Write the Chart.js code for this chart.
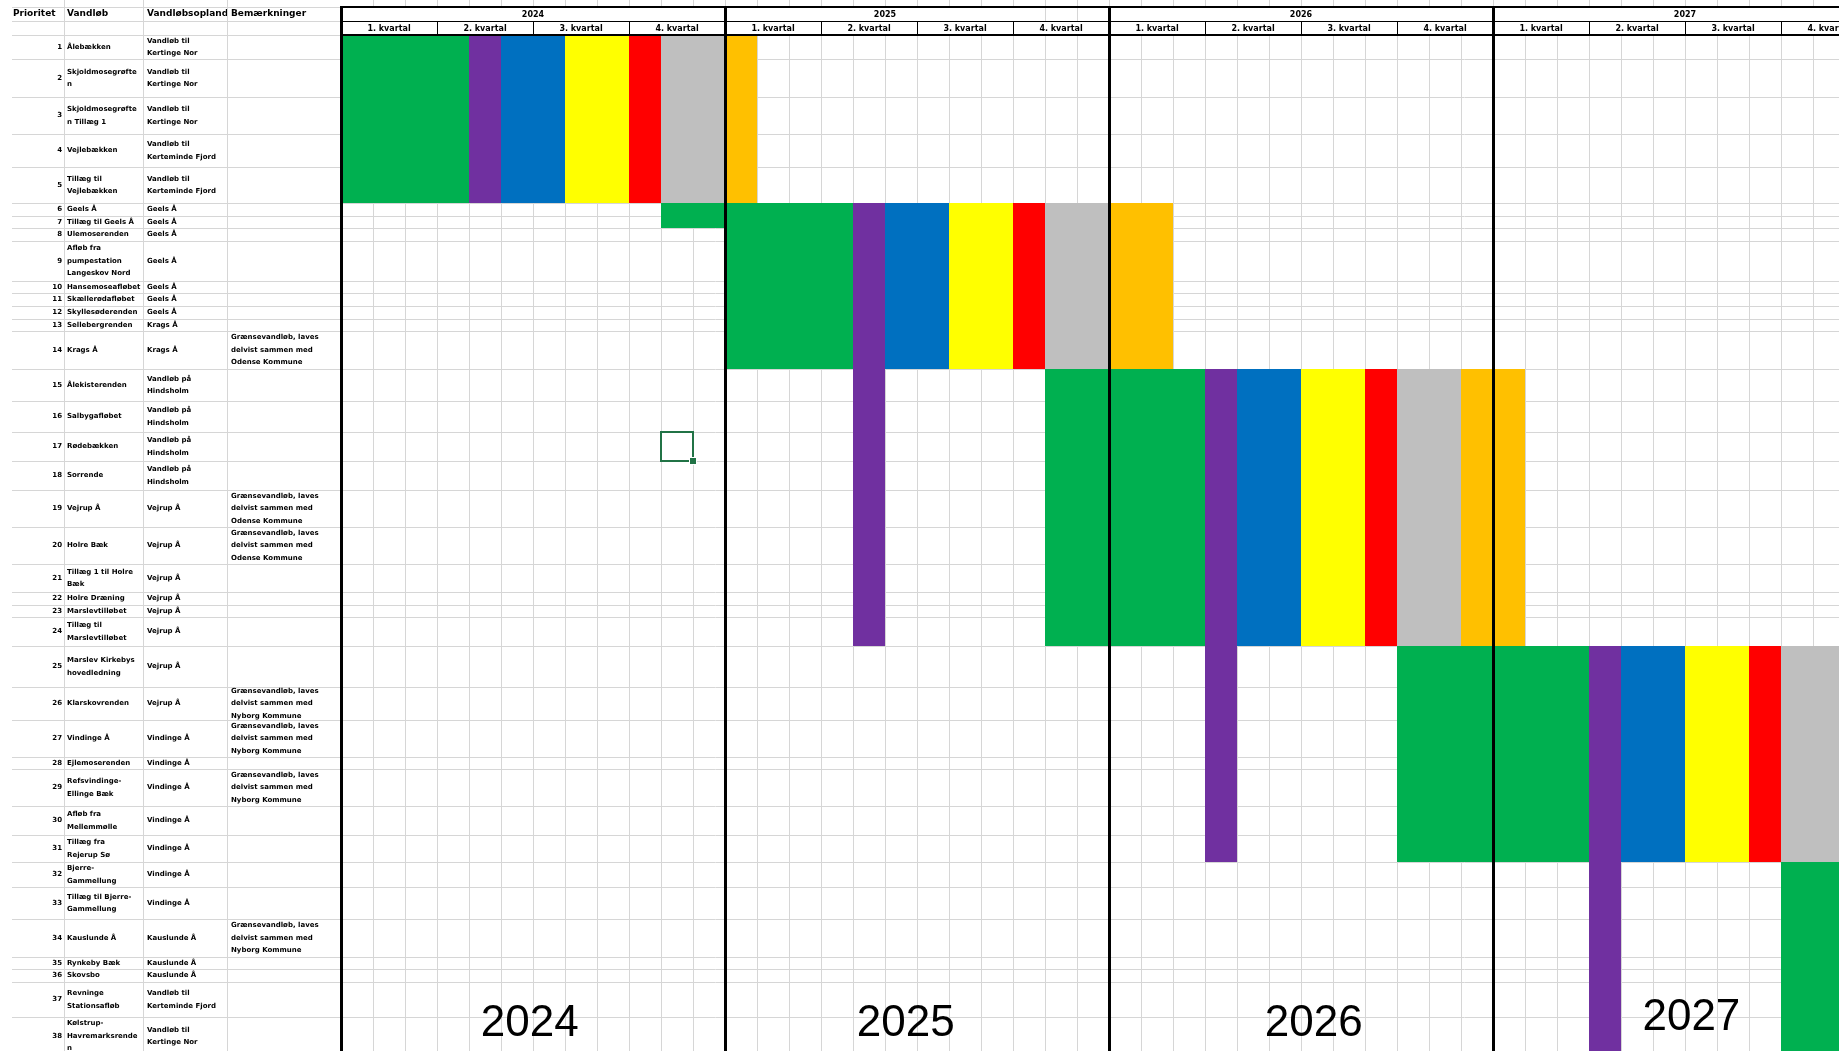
<!DOCTYPE html>
<html lang="da">
<head>
<meta charset="utf-8">
<title>Tidsplan vandløb 2024-2027</title>
<script src="https://cdn.jsdelivr.net/npm/chart.js@4.4.1/dist/chart.umd.min.js"></script>
<style>
    html, body { margin: 0; padding: 0; background: #fff; overflow: hidden; }
</style>
</head>
<body>
<canvas id="myChart" width="1839" height="1051"></canvas>
<script>
const years = ['2024', '2025', '2026', '2027'];
const quarters = ['1. kvartal', '2. kvartal', '3. kvartal', '4. kvartal'];
const headers = ['Prioritet', 'Vandløb', 'Vandløbsopland', 'Bemærkninger'];

const priority = [1, 2, 3, 4, 5, 6, 7, 8, 9, 10, 11, 12, 13, 14, 15, 16, 17, 18, 19,
    20, 21, 22, 23, 24, 25, 26, 27, 28, 29, 30, 31, 32, 33, 34, 35, 36, 37, 38];

const streams = [
    'Ålebækken', 'Skjoldmosegrøfte\nn', 'Skjoldmosegrøfte\nn Tillæg 1', 'Vejlebækken',
    'Tillæg til\nVejlebækken', 'Geels Å', 'Tillæg til Geels Å', 'Ulemoserenden',
    'Afløb fra\npumpestation\nLangeskov Nord', 'Hansemoseafløbet', 'Skællerødafløbet',
    'Skyllesøderenden', 'Sellebergrenden', 'Krags Å', 'Ålekisterenden', 'Salbygafløbet',
    'Rødebækken', 'Sorrende', 'Vejrup Å', 'Holre Bæk', 'Tillæg 1 til Holre\nBæk',
    'Holre Dræning', 'Marslevtilløbet', 'Tillæg til\nMarslevtilløbet',
    'Marslev Kirkebys\nhovedledning', 'Klarskovrenden', 'Vindinge Å', 'Ejlemoserenden',
    'Refsvindinge-\nEllinge Bæk', 'Afløb fra\nMellemmølle', 'Tillæg fra\nRejerup Sø',
    'Bjerre-\nGammellung', 'Tillæg til Bjerre-\nGammellung', 'Kauslunde Å', 'Rynkeby Bæk',
    'Skovsbo', 'Revninge\nStationsafløb', 'Kølstrup-\nHavremarksrende\nn'
];

const catchments = [
    'Vandløb til\nKertinge Nor', 'Vandløb til\nKertinge Nor', 'Vandløb til\nKertinge Nor',
    'Vandløb til\nKerteminde Fjord', 'Vandløb til\nKerteminde Fjord',
    'Geels Å', 'Geels Å', 'Geels Å', 'Geels Å', 'Geels Å', 'Geels Å', 'Geels Å',
    'Krags Å', 'Krags Å',
    'Vandløb på\nHindsholm', 'Vandløb på\nHindsholm', 'Vandløb på\nHindsholm', 'Vandløb på\nHindsholm',
    'Vejrup Å', 'Vejrup Å', 'Vejrup Å', 'Vejrup Å', 'Vejrup Å', 'Vejrup Å', 'Vejrup Å', 'Vejrup Å',
    'Vindinge Å', 'Vindinge Å', 'Vindinge Å', 'Vindinge Å', 'Vindinge Å', 'Vindinge Å', 'Vindinge Å',
    'Kauslunde Å', 'Kauslunde Å', 'Kauslunde Å',
    'Vandløb til\nKerteminde Fjord', 'Vandløb til\nKertinge Nor'
];

const odense = 'Grænsevandløb, laves\ndelvist sammen med\nOdense Kommune';
const nyborg = 'Grænsevandløb, laves\ndelvist sammen med\nNyborg Kommune';
const remarks = [
    '', '', '', '', '', '', '', '', '', '', '', '', '', odense,
    '', '', '', '', odense, odense, '', '', '', '', '', nyborg, nyborg, '', nyborg,
    '', '', '', '', nyborg, '', '', '', ''
];

// stages: first and last priority row covered
const stageFrom = [1, 6, 15, 25, 32];
const stageTo = [5, 14, 24, 31, 38];

// phases as [start, end] in months counted from January 2024
const phaseGreen = [[0, 4], [12, 16], [22, 27], [33, 39], [45, 48]];
const phasePurple = [[4, 5], [16, 17], [27, 28], [39, 40]];
const purpleTo = [5, 24, 31, 38]; // purple runs down over the next stage
const phaseBlue = [[5, 7], [17, 19], [28, 30], [40, 42]];
const phaseYellow = [[7, 9], [19, 21], [30, 32], [42, 44]];
const phaseRed = [[9, 10], [21, 22], [32, 33], [44, 45]];
const phaseGrey = [[10, 12], [22, 24], [33, 35], [45, 47]];
const phaseOrange = [[12, 13], [24, 26], [35, 37]];
// early start for priority 6-7
const earlyMonths = [10, 12];
const earlyRows = [6, 7];

// ---- layout (sheet sizes in px) ----
const colours = ['#00B050', '#7030A0', '#0070C0', '#FFFF00', '#FF0000', '#BFBFBF', '#FFC000'];
const rowHeights = [24, 38, 37, 33, 36, 13, 12, 13, 40, 12, 13, 13, 12, 38, 32, 31, 29, 29, 37,
    37, 28, 13, 12, 29, 41, 33, 37, 12, 37, 29, 27, 25, 32, 38, 12, 13, 35, 38];
const W = 1839, H = 1051;
const TABLE_W = 341, HEAD_H = 35, MONTH_W = 32;
const colLines = [64, 143, 227];
const colText = [62, 67, 147, 231];
const GRID = '#d6d6d6';
const bodyFont = 'bold 7px "DejaVu Sans"';
const headFont = 'bold 9px "DejaVu Sans"';
const yearHeadSpan = [[0, 12], [12, 22], [24, 36], [36, 48]];
const bigLabelShift = [-0.1, -0.35, 0.4, 0.2];
const bigLabelY = [1024, 1024, 1024, 1018];

const rowEdges = [0];
rowHeights.forEach(h => rowEdges.push(rowEdges[rowEdges.length - 1] + h));
const yMax = H - HEAD_H;
const xMax = (W - TABLE_W) / MONTH_W;

const datasets = [];
function addBlock(months, fromRow, toRow, colour) {
    const top = rowEdges[fromRow - 1];
    const bottom = rowEdges[toRow];
    datasets.push({
        data: [
            { x: months[0], y: top }, { x: months[1], y: top },
            { x: months[1], y: bottom }, { x: months[0], y: bottom }
        ],
        fill: 'shape',
        backgroundColor: colour,
        borderColor: 'rgba(0,0,0,0)',
        borderWidth: 0,
        pointRadius: 0,
        pointHoverRadius: 0,
        tension: 0
    });
}
phaseGreen.forEach((m, i) => addBlock(m, stageFrom[i], stageTo[i], colours[0]));
phasePurple.forEach((m, i) => addBlock(m, stageFrom[i], purpleTo[i], colours[1]));
[phaseBlue, phaseYellow, phaseRed, phaseGrey, phaseOrange].forEach((phase, k) => {
    phase.forEach((m, i) => addBlock(m, stageFrom[i], stageTo[i], colours[k + 2]));
});
addBlock(earlyMonths, earlyRows[0], earlyRows[1], colours[0]);

function cellText(ctx, text, x, yMid, clip0, clip1) {
    const lines = text.split('\n');
    const lh = 12.4;
    ctx.save();
    ctx.beginPath();
    ctx.rect(clip0, 0, clip1 - clip0, H);
    ctx.clip();
    lines.forEach((ln, i) => ctx.fillText(ln, x, yMid + (i - (lines.length - 1) / 2) * lh));
    ctx.restore();
}

const sheetPlugin = {
    id: 'sheet',
    beforeDraw(chart) {
        const c = chart.ctx;
        c.save();
        c.fillStyle = '#fff';
        c.fillRect(0, 0, W, H);
        c.restore();
    },
    afterDraw(chart) {
        const c = chart.ctx;
        const xs = chart.scales.x;
        const ys = chart.scales.y;
        const px = m => Math.round(xs.getPixelForValue(m));
        const py = v => Math.round(ys.getPixelForValue(v));
        c.save();

        // gridlines of the sheet outside the chart area
        c.fillStyle = GRID;
        colLines.forEach(x => c.fillRect(x, 0, 1, H));
        [7, 21].concat(rowEdges.map(v => py(v))).forEach(y => c.fillRect(12, y, TABLE_W - 12, 1));
        for (let m = 1; m < 47; m++) c.fillRect(px(m), 0, 1, 6);
        [22, 23].forEach(m => c.fillRect(px(m), 8, 1, 13));

        // left table
        c.fillStyle = '#000';
        c.textBaseline = 'middle';
        c.font = headFont;
        c.textAlign = 'left';
        cellText(c, headers[0], 13, 14, 12, 64);
        cellText(c, headers[1], colText[1], 14, 64, 143);
        cellText(c, headers[2], colText[2], 14, 143, 227);
        cellText(c, headers[3], colText[3], 14, 227, TABLE_W - 2);
        c.font = bodyFont;
        priority.forEach((p, i) => {
            const yMid = (py(rowEdges[i]) + py(rowEdges[i + 1])) / 2;
            c.textAlign = 'right';
            cellText(c, String(p), colText[0], yMid, 12, 64);
            c.textAlign = 'left';
            cellText(c, streams[i], colText[1], yMid, 64, 143);
            cellText(c, catchments[i], colText[2], yMid, 143, 227);
            cellText(c, remarks[i], colText[3], yMid, 227, TABLE_W - 2);
        });

        // header of the time line
        c.fillStyle = '#000';
        c.fillRect(TABLE_W, 6, W - TABLE_W, 2);
        c.fillRect(TABLE_W, 21, W - TABLE_W, 1);
        c.fillRect(TABLE_W, 34, W - TABLE_W, 2);
        for (let q = 1; q * 3 < 48; q++) {
            if (q % 4 !== 0) c.fillRect(px(q * 3), 21, 1, 14);
        }
        c.font = 'bold 8px "DejaVu Sans"';
        c.textAlign = 'center';
        years.forEach((yr, i) => {
            const span = yearHeadSpan[i];
            c.fillText(yr, (px(span[0]) + px(span[1])) / 2, 14.5);
            quarters.forEach((qt, k) => {
                const m0 = i * 12 + k * 3;
                c.fillText(qt, (px(m0) + px(m0 + 3)) / 2, 28.5);
            });
        });

        // year separators over the bars
        years.forEach((yr, i) => c.fillRect(px(i * 12) - 1, 6, 3, H - 6));

        // selected cell
        const sx0 = px(10), sx1 = px(11), sy0 = py(rowEdges[16]), sy1 = py(rowEdges[17]);
        c.strokeStyle = '#217346';
        c.lineWidth = 2;
        c.strokeRect(sx0, sy0, sx1 - sx0, sy1 - sy0);
        c.fillStyle = '#fff';
        c.fillRect(sx1 - 4, sy1 - 4, 8, 8);
        c.fillStyle = '#217346';
        c.fillRect(sx1 - 3, sy1 - 3, 6, 6);

        // big year labels
        c.fillStyle = '#000';
        c.font = '44px "Liberation Sans"';
        c.textAlign = 'center';
        years.forEach((yr, i) => {
            c.fillText(yr, xs.getPixelForValue(i * 12 + 6 + bigLabelShift[i]), bigLabelY[i]);
        });
        c.restore();
    }
};

const ctx = document.getElementById('myChart').getContext('2d');
new Chart(ctx, {
    type: 'line',
    data: { datasets: datasets },
    options: {
        responsive: false,
        animation: false,
        devicePixelRatio: 1,
        events: [],
        layout: { padding: { left: TABLE_W, top: HEAD_H, right: 0, bottom: 0 } },
        scales: {
            x: {
                type: 'linear',
                min: 0,
                max: xMax,
                afterBuildTicks: (axis) => {
                    const t = [];
                    for (let m = 0; m < 47; m++) t.push({ value: m });
                    axis.ticks = t;
                },
                ticks: { display: false },
                grid: { color: GRID, lineWidth: 1, drawTicks: false },
                border: { display: false }
            },
            y: {
                type: 'linear',
                reverse: true,
                min: 0,
                max: yMax,
                afterBuildTicks: (axis) => {
                    axis.ticks = rowEdges.filter(v => v <= yMax).map(v => ({ value: v }));
                },
                ticks: { display: false },
                grid: { color: GRID, lineWidth: 1, drawTicks: false },
                border: { display: false }
            }
        },
        plugins: {
            legend: { display: false },
            tooltip: { enabled: false }
        }
    },
    plugins: [sheetPlugin]
});
</script>
</body>
</html>
